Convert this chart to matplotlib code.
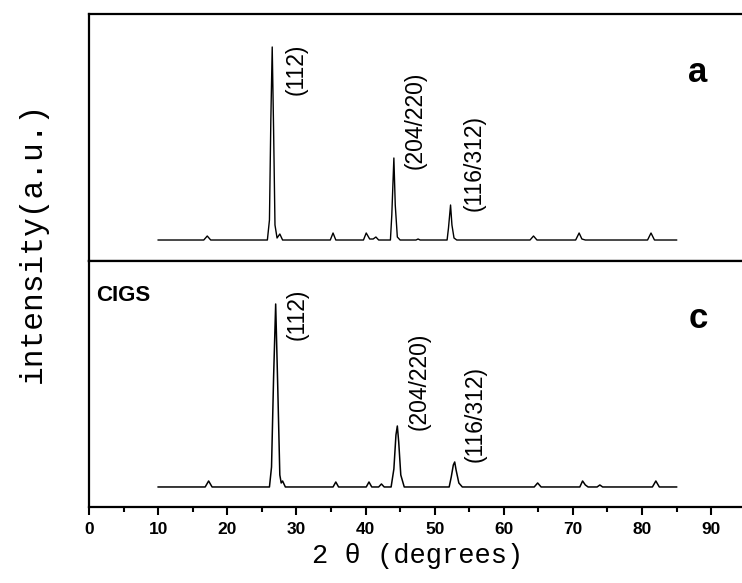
import matplotlib
matplotlib.use("Agg")
import matplotlib.pyplot as plt
from matplotlib.ticker import MultipleLocator

# XRD pattern a (top panel): 2theta vertices and intensity (a.u.)
two_theta_a = [10.0, 16.6, 17.1, 17.6, 25.8, 26.1, 26.3, 26.5, 26.7, 26.9, 27.2, 27.6, 28.0,
               34.9, 35.3, 35.7, 39.7, 40.1, 40.6, 41.1, 41.5, 41.9, 43.6, 43.8, 44.1, 44.3,
               44.6, 45.0, 47.3, 47.6, 47.9, 51.8, 52.0, 52.3, 52.5, 52.8, 53.2, 63.8, 64.3,
               64.8, 70.4, 70.9, 71.3, 71.8, 80.8, 81.3, 81.8, 85.0]
intensity_a = [0, 0, 4, 0, 0, 20, 120, 193, 110, 15, 2, 6, 0,
               0, 7, 0, 0, 7, 1, 1, 3, 0, 0, 25, 82, 35,
               3, 0, 0, 1, 0, 0, 12, 35, 15, 2, 0, 0, 4,
               0, 0, 7, 1, 0, 0, 7, 0, 0]

# XRD pattern c (bottom panel, CIGS)
two_theta_c = [10.0, 16.8, 17.3, 17.8, 26.1, 26.4, 26.7, 27.0, 27.3, 27.6, 27.8, 28.0, 28.4,
               35.3, 35.7, 36.1, 40.1, 40.5, 40.9, 41.9, 42.3, 42.7, 43.7, 44.1, 44.4, 44.6,
               44.8, 45.1, 45.6, 52.1, 52.4, 52.7, 52.9, 53.1, 53.5, 54.0, 64.4, 64.9, 65.4,
               71.0, 71.4, 71.8, 72.2, 73.5, 73.9, 74.3, 81.5, 82.0, 82.5, 85.0]
intensity_c = [0, 0, 6, 0, 0, 20, 110, 183, 100, 12, 4, 6, 0,
               0, 5, 0, 0, 5, 0, 0, 3, 0, 0, 18, 52, 61,
               45, 12, 0, 0, 10, 22, 25, 17, 4, 0, 0, 4, 0,
               0, 6, 2, 0, 0, 2, 0, 0, 6, 0, 0]

peak_labels = ["(112)", "(204/220)", "(116/312)"]

fig = plt.figure(figsize=(7.42, 5.83), dpi=100)
ax_a = fig.add_axes([0.12, 0.5523, 0.885, 0.4237])
ax_c = fig.add_axes([0.12, 0.1304, 0.885, 0.4219], sharex=ax_a)

for ax in (ax_a, ax_c):
    for s in ("top", "bottom", "left"):
        ax.spines[s].set_linewidth(1.6)
    ax.spines["right"].set_visible(False)
    ax.set_yticks([])
    ax.set_xlim(0, 95)

ax_a.plot(two_theta_a, intensity_a, color="black", lw=1.0)
ax_c.plot(two_theta_c, intensity_c, color="black", lw=1.1)
ax_a.set_ylim(-21, 226)
ax_c.set_ylim(-20, 226)

ax_a.tick_params(axis="x", which="both", bottom=False, labelbottom=False)
ax_c.xaxis.set_major_locator(MultipleLocator(10))
ax_c.xaxis.set_minor_locator(MultipleLocator(5))
ax_c.tick_params(axis="x", which="major", direction="out", length=6, width=1.5, pad=5)
ax_c.tick_params(axis="x", which="minor", direction="out", length=3.5, width=1.5)
ax_c.set_xticks(range(0, 100, 10))
for lbl in ax_c.get_xticklabels():
    lbl.set_fontfamily("Liberation Sans")
    lbl.set_fontweight("bold")
    lbl.set_fontsize(12.5)

# peak annotations
lab_kw = dict(rotation=90, ha="center", va="center", fontsize=16.5, family="Liberation Sans")
for x, y, t in zip([30.0, 47.2, 55.7], [171, 120, 77], peak_labels):
    ax_a.text(x, y, t, **lab_kw)
for x, y, t in zip([30.1, 47.7, 55.8], [173, 106, 73], peak_labels):
    ax_c.text(x, y, t, **lab_kw)

ax_a.text(88.1, 167, "a", ha="center", va="center", fontsize=25, fontweight="bold",
          family="Liberation Sans")
ax_c.text(88.1, 169, "c", ha="center", va="center", fontsize=25, fontweight="bold",
          family="Liberation Sans")
ax_c.text(1.0, 192, "CIGS", ha="left", va="center", fontsize=16, fontweight="bold",
          family="Liberation Sans")

ax_c.set_xlabel("2 \u03b8 (degrees)", family="Liberation Mono", fontsize=19.5, labelpad=4)
fig.text(0.044, 0.585, "intensity(a.u.)", rotation=90, ha="center", va="center",
         family="Liberation Mono", fontsize=22.5)

plt.savefig("out.png", dpi=100)
